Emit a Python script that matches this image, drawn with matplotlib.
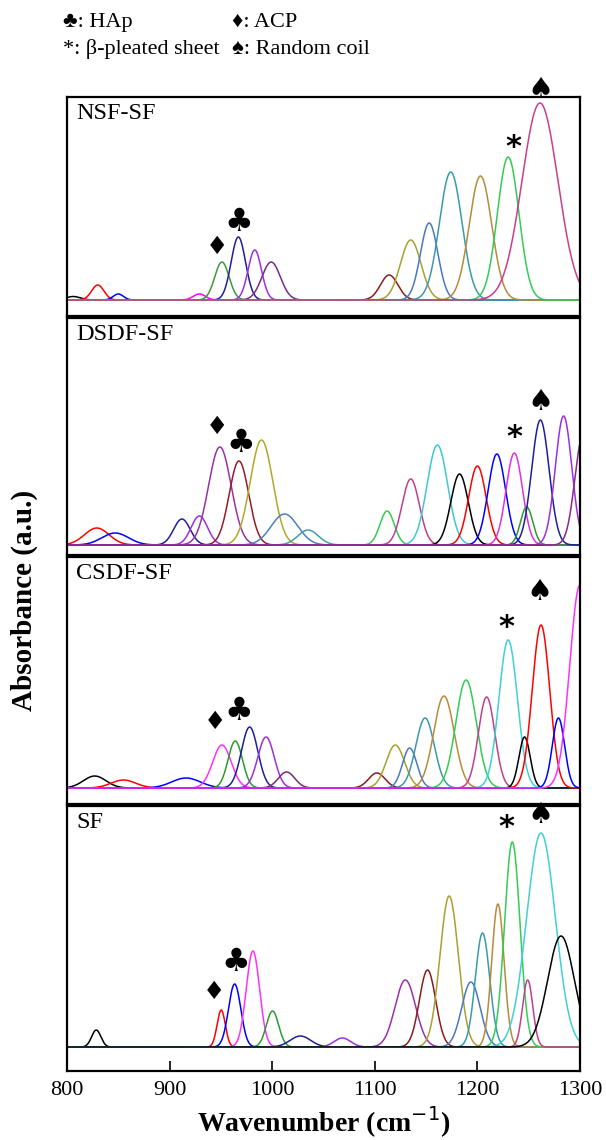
import numpy as np
import matplotlib
matplotlib.use("Agg")
import matplotlib.pyplot as plt

# ---------------- data (peak components) ----------------
panel_names = ["NSF-SF", "DSDF-SF", "CSDF-SF", "SF"]

nsf_centers = [806, 830, 850, 929, 951, 967, 983, 999, 1114, 1135, 1153, 1174, 1203, 1230, 1261]
nsf_heights = [3.5, 15, 6, 6, 38, 63, 50, 38, 25, 60, 77, 128, 124, 143, 197]
nsf_widths = [7, 6, 5, 6, 7, 7, 6.5, 9, 8.5, 10, 8.5, 11, 11, 10.5, 17.5]
nsf_colors = ["black", "red", "blue", "magenta", "#3a9a3a", "#1f1f9a", "#9b30e0", "#7b2a8a",
              "#8b1c1c", "#a8a030", "#4a78c0", "#3a9aaa", "#b88a3a", "#33cc55", "#cc3d8a"]

dsdf_centers = [829, 847, 912, 929, 949, 967.6, 989.6, 1012, 1035, 1112, 1135, 1161, 1182.6,
                1200, 1219, 1236, 1248, 1261.4, 1284, 1303]
dsdf_heights = [17, 12, 26, 29, 98, 84, 105, 31, 15, 34, 66, 100, 71, 79, 91, 92, 38, 125, 129, 110]
dsdf_widths = [12, 13, 8, 8, 11, 9.5, 11, 13, 10, 7, 8.5, 10, 8.5, 8.5, 8.5, 8, 6, 8.5, 8, 8]
dsdf_colors = ["red", "blue", "#1f1f9a", "#9b30e0", "#9932a8", "#9a1a2a", "#b0a82a", "#4a80c0",
               "#40a0a8", "#33cc55", "#c0408a", "#40c8d0", "black", "red", "blue", "#e030e0",
               "#2e9a2e", "#1f1f9a", "#9b30e0", "#8b2a8b"]

csdf_centers = [827, 855, 916, 951, 964, 978, 994, 1014, 1102, 1120, 1134, 1149, 1167.4,
                1189, 1209, 1230, 1246, 1262, 1279, 1300]
csdf_heights = [12, 8, 10, 43, 47, 61, 51, 16, 15, 43, 40, 70, 92, 108, 91, 148, 51, 163, 70, 203]
csdf_widths = [11, 12, 14, 9, 7, 8, 8, 8, 8, 9, 7, 9, 10, 10, 8, 9, 5.5, 8.5, 6, 10]
csdf_colors = ["black", "red", "blue", "#ff30ff", "#2e9a2e", "#1f1f9a", "#9b30e0", "#7b2a6a",
               "#8b1c1c", "#a8a030", "#4a78c0", "#3a9aaa", "#b88a3a", "#33cc55", "#c0408a",
               "#40d0d8", "black", "red", "blue", "#ff30ff"]

sf_centers = [828.5, 950.3, 963.4, 981.2, 1000.3, 1027.5, 1068.4, 1129.8, 1151.4, 1172.5,
              1193.7, 1205, 1220, 1234, 1249, 1262, 1281.5]
sf_heights = [17, 37, 63, 96, 36, 11, 9, 67, 77, 151, 65, 114, 143, 205, 67, 214, 111]
sf_widths = [4.5, 4, 6, 6.5, 6, 10, 8, 10, 8, 9, 9, 7, 6, 7.5, 5, 14, 13]
sf_colors = ["black", "red", "blue", "#ff30ff", "#2e9a2e", "#1f1f9a", "#9b30e0", "#9932a8",
             "#8b1c1c", "#a8a030", "#4a78c0", "#3a9aaa", "#b88a3a", "#33cc55", "#c0408a",
             "#40d0d8", "black"]

# annotation symbols: (symbol, wavenumber, height above baseline)
nsf_marks = [("♦", 946, 53), ("♣", 967, 78), ("*", 1235.5, 152), ("♠", 1261, 210)]
dsdf_marks = [("♦", 946, 118), ("♣", 969, 102), ("*", 1236.5, 108), ("♠", 1261.4, 143)]
csdf_marks = [("♦", 944, 66), ("♣", 967, 77), ("*", 1228, 160), ("♠", 1260.5, 196)]
sf_marks = [("♦", 943, 55), ("♣", 965, 85), ("*", 1228.5, 220), ("♠", 1261.4, 232)]

x_ticks = [800, 900, 1000, 1100, 1200, 1300]

panels = [
    (nsf_centers, nsf_heights, nsf_widths, nsf_colors, nsf_marks, (-16, 203)),
    (dsdf_centers, dsdf_heights, dsdf_widths, dsdf_colors, dsdf_marks, (-10, 227)),
    (csdf_centers, csdf_heights, csdf_widths, csdf_colors, csdf_marks, (-16, 231)),
    (sf_centers, sf_heights, sf_widths, sf_colors, sf_marks, (-24, 241)),
]

# ---------------- layout ----------------
W, H = 606, 1140
fig = plt.figure(figsize=(W / 100, H / 100), dpi=100)
serif = ["Liberation Serif", "DejaVu Serif"]
sym = ["DejaVu Sans"]
sym_size = {"♣": 23, "♦": 18, "♠": 21, "*": 22}

left, right = 67, 580
bounds = [(97, 316), (318, 555), (557, 804), (806, 1071)]

wn = np.linspace(800, 1300, 1500)
axes = []
for (top, bot), (cen, hei, wid, cols, marks, ylim), name in zip(bounds, panels, panel_names):
    ax = fig.add_axes([left / W, 1 - bot / H, (right - left) / W, (bot - top) / H])
    for c, h, w, col in zip(cen, hei, wid, cols):
        ax.plot(wn, h * np.exp(-(wn - c) ** 2 / (2 * w ** 2)), color=col, lw=1.1)
    ax.set_xlim(800, 1300)
    ax.set_ylim(*ylim)
    ax.set_yticks([])
    for s in ax.spines.values():
        s.set_linewidth(1.6)
    ax.text(9 / (right - left), 1 - 6 / (bot - top), name, transform=ax.transAxes,
            ha="left", va="top", fontsize=17.5, family=serif)
    for s, x, y in marks:
        ax.text(x, y, s, ha="center", va="center", fontsize=sym_size[s], family=sym,
                fontweight="bold" if s == "*" else "normal", clip_on=False)
    axes.append(ax)

for ax in axes[:-1]:
    ax.set_xticks([])
bx = axes[-1]
bx.set_xticks(x_ticks)
bx.set_xticklabels([str(t) for t in x_ticks], family=serif, fontsize=16)
bx.tick_params(axis="x", direction="in", length=7, width=1.2, pad=7)
bx.set_xlabel("Wavenumber (cm$^{-1}$)", family=serif, fontsize=20, fontweight="bold", labelpad=3)

fig.text(24 / W, 1 - 600 / H, "Absorbance (a.u.)", rotation=90, ha="center", va="center",
         family=serif, fontsize=21, fontweight="bold")

# legend text at the top
leg_fam = ["Liberation Serif", "DejaVu Sans"]
fig.text(63 / W, 1 - 22 / H, "♣: HAp", ha="left", va="center", fontsize=16, family=leg_fam)
fig.text(232 / W, 1 - 22 / H, "♦: ACP", ha="left", va="center", fontsize=16, family=leg_fam)
fig.text(63 / W, 1 - 49 / H, "*: β-pleated sheet", ha="left", va="center", fontsize=16, family=leg_fam)
fig.text(232 / W, 1 - 49 / H, "♠: Random coil", ha="left", va="center", fontsize=16, family=leg_fam)

fig.savefig("out.png", dpi=100)
